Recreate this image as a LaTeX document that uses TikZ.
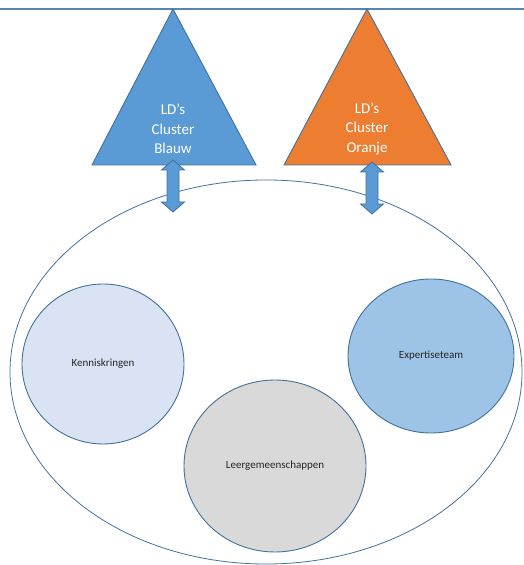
\documentclass[tikz,border=0pt]{standalone}
\usepackage{fontspec}
\setmainfont{Carlito}
\usetikzlibrary{shapes.geometric}
\definecolor{rand}{HTML}{41719C}
\definecolor{lijn}{HTML}{5A84B4}
\definecolor{blauw}{HTML}{5B9BD5}
\definecolor{oranje}{HTML}{ED7D31}
\definecolor{lichtblauw}{HTML}{DAE3F3}
\definecolor{middenblauw}{HTML}{9DC3E6}
\definecolor{grijs}{HTML}{D9D9D9}
\definecolor{tekst}{HTML}{262626}

\begin{document}
\begin{tikzpicture}[x=1bp, y=1bp,
	kring/.style={draw=rand, ellipse, line width=0.9bp, inner sep=0pt,
		font=\fontsize{11bp}{13bp}\selectfont, text=tekst},
	tri/.style={draw=rand, line width=0.9bp},
	trilabel/.style={align=center, text=white,
		font=\fontsize{15bp}{19.5bp}\selectfont},
	pijl/.pic={\filldraw[draw=rand, fill=blauw, line width=0.8bp]
		(0,26) -- (11.5,16) -- (6,16) -- (6,-16) -- (11.5,-16) -- (0,-26)
		-- (-11.5,-16) -- (-6,-16) -- (-6,16) -- (-11.5,16) -- cycle;}]
	\useasboundingbox (0,0) rectangle (524,565);
	\coordinate (L) at (0,556);
	\coordinate (R) at (524,556);
	\draw[lijn, line width=1.5bp] (L) -- (R);
	% groot geheel
	\node[draw=rand, ellipse, line width=0.8bp, minimum width=512bp,
		minimum height=384bp] (geheel) at (266,193) {};
	\node[kring, fill=lichtblauw, minimum width=162bp, minimum height=160bp]
		(kennis) at (103,201) {Kenniskringen};
	\node[kring, fill=grijs, minimum width=182bp, minimum height=172bp]
		(leer) at (275,99) {Leergemeenschappen};
	\node[kring, fill=middenblauw, minimum width=166bp, minimum height=154bp]
		(expert) at (431,209) {Expertiseteam};
	% clusters
	\coordinate (bA) at (173,556);
	\coordinate (bL) at (92,400);
	\coordinate (bR) at (256,400);
	\coordinate (oA) at (367,556);
	\coordinate (oL) at (284,400);
	\coordinate (oR) at (451,400);
	\filldraw[tri, fill=blauw] (bA) -- (bL) -- (bR) -- cycle;
	\filldraw[tri, fill=oranje] (oA) -- (oL) -- (oR) -- cycle;
	\node[trilabel] (blauwtxt) at (173,436) {LD’s\\Cluster\\Blauw};
	\node[trilabel] (oranjetxt) at (367,436) {LD’s\\Cluster\\Oranje};
	\coordinate (pb) at (173,379);
	\coordinate (po) at (372,377);
	\pic at (pb) {pijl};
	\pic at (po) {pijl};
\end{tikzpicture}
\end{document}
